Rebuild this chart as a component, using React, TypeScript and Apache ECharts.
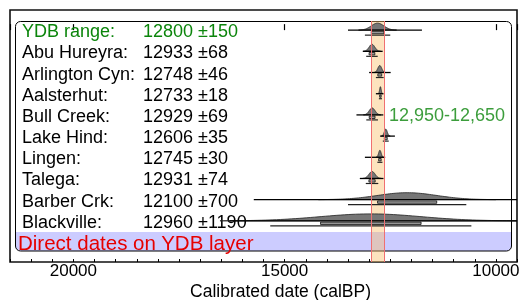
import React, { useEffect, useRef } from 'react';
import * as echarts from 'echarts';

// ---- data ----
const siteNames = ['YDB range:', 'Abu Hureyra:', 'Arlington Cyn:', 'Aalsterhut:', 'Bull Creek:', 'Lake Hind:', 'Lingen:', 'Talega:', 'Barber Crk:', 'Blackville:'];
const dateMeans = [12800, 12933, 12748, 12733, 12929, 12606, 12745, 12931, 12100, 12960];
const dateErrors = [150, 68, 46, 18, 69, 35, 30, 74, 700, 1190];
const rangeStart = [13500, 13150, 13000, 12840, 13300, 12740, 13100, 13220, 15730, 16300];
const rangeEnd = [11750, 12680, 12490, 12660, 12665, 12390, 12620, 12660, 9500, 9500];
const ydbBand = [12950, 12650];
const xTickLabels = [20000, 15000, 10000];
const xMin = 9500;
const xMax = 21500;
const caption = 'Direct dates on YDB layer';
const axisTitle = 'Calibrated date (calBP)';

const FONT = "'Liberation Sans', Arial, Helvetica, sans-serif";
const GREEN = '#0b850b';
const RED = '#e60000';

export default function App() {
  const ref = useRef<HTMLDivElement>(null);
  useEffect(() => {
    if (!ref.current) return;
    const chart = echarts.init(ref.current, null, { renderer: 'svg' });

    const rows = siteNames.map((n, i) => [i, dateMeans[i], dateErrors[i], rangeStart[i], rangeEnd[i]]);

    const renderItem = (params: any, api: any) => {
      const idx = params.dataIndex;
      const row = api.value(0);
      const mean = api.value(1);
      const sd = api.value(2);
      const from = api.value(3);
      const to = api.value(4);
      const cs = params.coordSys;
      const left = cs.x;
      const right = cs.x + cs.width;
      const y = api.coord([mean, row])[1];
      const px = (v: number) => Math.max(left, Math.min(right, api.coord([v, row])[0]));
      const H = 7;
      const pts: number[][] = [];
      const lo = mean - 3 * sd;
      const hi = mean + 3 * sd;
      const N = 80;
      for (let k = 0; k <= N; k++) {
        const t = lo + ((hi - lo) * k) / N;
        const z = (t - mean) / sd;
        pts.push([px(t), y - H * Math.exp(-0.5 * z * z)]);
      }
      const s1a = px(mean + sd), s1b = px(mean - sd);
      const s2a = px(mean + 2 * sd), s2b = px(mean - 2 * sd);
      const color = idx === 0 ? GREEN : '#000';
      return {
        type: 'group',
        children: [
          {
            type: 'text',
            style: { text: siteNames[idx], x: left + 12, y: y + 1, fill: color, fontSize: 18, fontFamily: FONT, verticalAlign: 'middle', align: 'left' },
          },
          {
            type: 'text',
            style: { text: `${dateMeans[idx]} ±${dateErrors[idx]}`, x: left + 133, y: y + 1, fill: color, fontSize: 18, fontFamily: FONT, verticalAlign: 'middle', align: 'left' },
          },
          {
            type: 'polygon',
            shape: { points: pts },
            style: { fill: '#767676', stroke: '#222', lineWidth: 0.8 },
          },
          {
            type: 'line',
            shape: { x1: px(from), y1: y, x2: px(to), y2: y },
            style: { stroke: '#000', lineWidth: 1.3 },
          },
          {
            type: 'rect',
            shape: { x: Math.min(s1a, s1b), y: y + 1.2, width: Math.abs(s1b - s1a), height: 2.4 },
            style: { fill: '#9a9a9a', stroke: '#111', lineWidth: 0.8 },
          },
          {
            type: 'line',
            shape: { x1: s2a, y1: y + 5, x2: s2b, y2: y + 5 },
            style: { stroke: '#222', lineWidth: 1.2 },
          },
        ],
      };
    };

    const bandLabel = `${ydbBand[0].toLocaleString('en-US')}-${ydbBand[1].toLocaleString('en-US')}`;

    chart.setOption({
      animation: false,
      grid: {
        left: 10, top: 10, right: 4, bottom: 38, show: true, borderColor: '#111', borderWidth: 1.6,
        backgroundColor: 'transparent', containLabel: false, outerBoundsMode: 'none',
      },
      xAxis: [
        {
          type: 'value', min: xMin, max: xMax, inverse: true, splitNumber: 3, position: 'bottom',
          axisLine: { show: false },
          axisTick: { show: true, inside: true, length: 6, lineStyle: { color: '#000', width: 1.2 } },
          splitLine: { show: false },
          axisLabel: {
            show: true, margin: 0, color: '#000', fontSize: 17, fontFamily: FONT,
            formatter: (v: number) => (xTickLabels.includes(v) ? String(v) : ''),
          },
          name: axisTitle, nameLocation: 'middle', nameGap: 19.5, nameMoveOverlap: false,
          nameTextStyle: { color: '#000', fontSize: 17.5, fontFamily: FONT, padding: [0, 0, 0, 34], verticalAlign: 'top' },
        },
        {
          type: 'value', min: xMin, max: xMax, inverse: true, interval: 500, position: 'bottom', offset: 0,
          axisLine: { show: false },
          axisTick: { show: true, inside: true, length: 3, lineStyle: { color: '#000', width: 1 } },
          splitLine: { show: false },
          axisLabel: { show: false },
        },
      ],
      yAxis: { type: 'value', min: -0.95, max: 10.94, inverse: true, show: false },
      graphic: [
        { type: 'rect', z: 0, shape: { x: 15.5, y: 232, width: 496, height: 19, r: [0, 0, 5, 5] }, style: { fill: '#ccccff' } },
        { type: 'rect', z: 1, shape: { x: 15.5, y: 21.5, width: 496, height: 229.5, r: 5 }, style: { fill: 'none', stroke: '#000', lineWidth: 1 } },
        { type: 'text', z: 1, x: 18, y: 242, style: { text: caption, fill: RED, fontSize: 20.5, fontFamily: FONT, verticalAlign: 'middle' } },
      ],
      series: [
        {
          type: 'custom', name: 'dates', z: 2, xAxisIndex: 0, yAxisIndex: 0,
          data: rows, renderItem, silent: true,
        },
        {
          type: 'scatter', name: 'band', z: 5, xAxisIndex: 0, yAxisIndex: 0, silent: true,
          symbolSize: 0,
          data: [[ydbBand[1], 4]],
          label: { show: true, position: 'right', distance: 5, formatter: bandLabel, color: GREEN, fontSize: 18, fontFamily: FONT },
          markArea: {
            silent: true,
            itemStyle: { color: 'rgba(250,188,100,0.42)', borderWidth: 0 },
            data: [[{ coord: [ydbBand[0], -0.43] }, { coord: [ydbBand[1], 10.94] }]],
          },
          markLine: {
            silent: true, symbol: 'none', label: { show: false },
            lineStyle: { color: '#f07070', width: 1, type: 'solid' },
            data: [
              [{ coord: [ydbBand[0], -0.43] }, { coord: [ydbBand[0], 10.94] }],
              [{ coord: [ydbBand[1], -0.43] }, { coord: [ydbBand[1], 10.94] }],
            ],
          },
        },
      ],
    });
    return () => chart.dispose();
  }, []);
  return <div ref={ref} style={{ position: 'fixed', left: 0, top: 0, width: 521, height: 300 }} />;
}
